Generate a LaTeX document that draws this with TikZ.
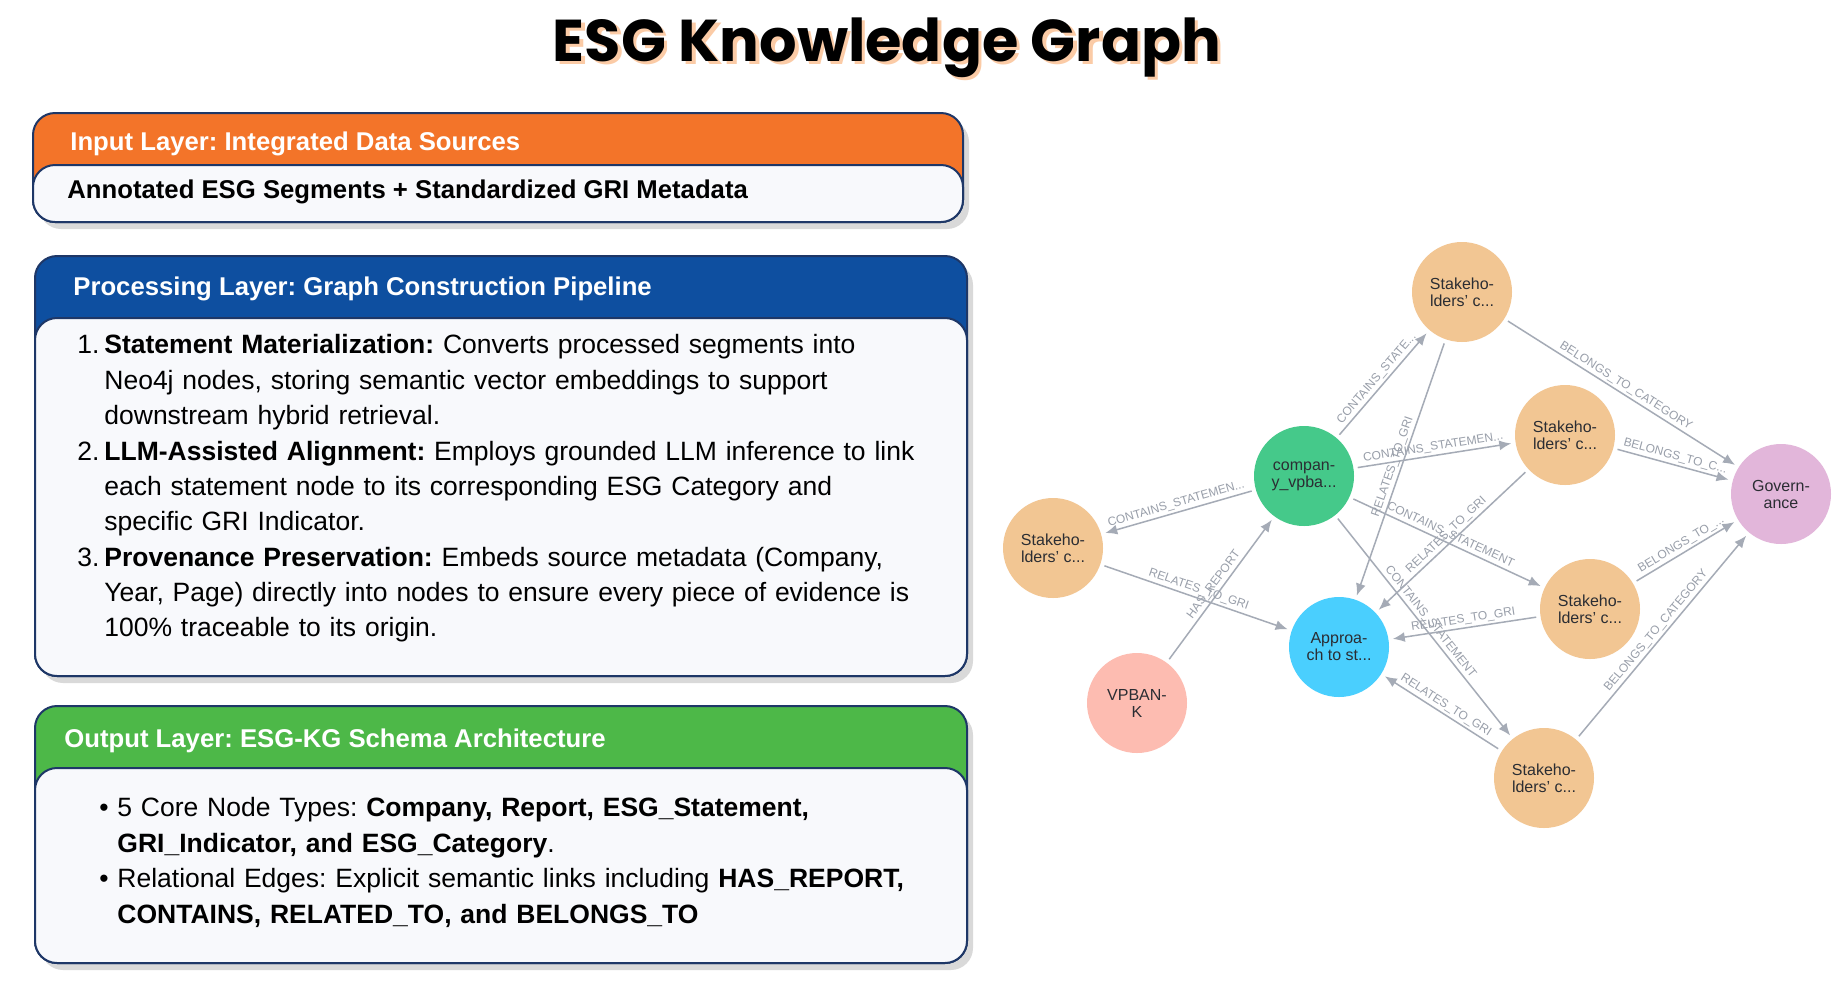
\documentclass[tikz,border=0pt]{standalone}
\usepackage{fontspec}
\setmainfont{Liberation Sans}
\setsansfont{Liberation Sans}
\newfontfamily\ttlfont{Poppins}
\usepackage{xcolor}
\usepackage{tikz}
\usetikzlibrary{arrows.meta, positioning, shadows, backgrounds}
\frenchspacing
\definecolor{inorange}{HTML}{F37429}
\definecolor{procblue}{HTML}{0E4FA0}
\definecolor{outgreen}{HTML}{4DB848}
\definecolor{panelnavy}{HTML}{1E3767}
\definecolor{bodywhite}{HTML}{F8F9FC}
\definecolor{peach}{HTML}{FBCBA6}
\definecolor{stmtorange}{HTML}{F2C693}
\definecolor{compgreen}{HTML}{45C98A}
\definecolor{catpink}{HTML}{E2B6DA}
\definecolor{gricyan}{HTML}{4ACFFE}
\definecolor{rptsalmon}{HTML}{FDBCB1}
\definecolor{edgegray}{HTML}{A5ABB6}
\definecolor{lblgray}{HTML}{989EA9}
\definecolor{inkgray}{HTML}{2B2D33}
\tikzset{
  ttl/.style={anchor=base, inner sep=0pt, font=\ttlfont\bfseries\fontsize{29.5}{34}\selectfont},
  panel/.style={draw=panelnavy, line width=1pt, rounded corners=11pt},
  panel/shade/.style={panel, drop shadow={shadow xshift=3pt, shadow yshift=-3.5pt, fill=black, opacity=0.15}},
  hdr/.style={anchor=base west, inner sep=0pt, text=white, font=\fontsize{12.85}{15}\selectfont\bfseries},
  itm/.style={anchor=north west, inner sep=0pt, text width=440pt, align=left, font=\fontsize{13.25}{17.55}\selectfont},
  num/.style={anchor=north east, inner sep=0pt, font=\fontsize{13.25}{17.55}\selectfont},
  gnode/.style={circle, minimum size=50pt, inner sep=0pt, align=center, text=inkgray, font=\fontsize{8}{8.5}\selectfont},
  gnode/stmt/.style={gnode, fill=stmtorange},
  gnode/comp/.style={gnode, fill=compgreen},
  gnode/cat/.style={gnode, fill=catpink},
  gnode/gri/.style={gnode, fill=gricyan},
  gnode/rpt/.style={gnode, fill=rptsalmon},
  rel/.style={-{Latex[length=6pt, width=5pt]}, draw=edgegray, line width=0.75pt, shorten >=2pt, shorten <=2pt},
  rl/.style={sloped, above, inner sep=1pt, text=lblgray, font=\fontsize{6}{7}\selectfont},
}

\begin{document}
\begin{tikzpicture}[x=0.5pt, y=0.5pt]
\useasboundingbox (0,0) rectangle (1842,-981);

\node[ttl, text=peach] (TTLs) at (890.5,-64) {ESG Knowledge Graph};
\node[ttl] (TTL) at (887,-61) {ESG Knowledge Graph};

\path[panel/shade, fill=inorange] (33,-113) rectangle (963,-222);
\path[panel, fill=bodywhite] (33,-165) rectangle (963,-222);
\node[hdr] (INh) at (70,-150) {Input Layer: Integrated Data Sources};
\node[hdr, text=black] (INb) at (67,-198) {Annotated ESG Segments + Standardized GRI Metadata};

\path[panel/shade, fill=procblue] (35,-256) rectangle (967,-676);
\path[panel, fill=bodywhite] (35,-318) rectangle (967,-676);
\node[hdr] (PRh) at (73,-295) {Processing Layer: Graph Construction Pipeline};
\node[itm] (P1) at (104,-329) {\strut\textbf{Statement Materialization:} Converts processed segments into\\Neo4j nodes, storing semantic vector embeddings to support\\downstream hybrid retrieval.\strut};
\node[itm, below=0pt of P1.south west, anchor=north west] (P2) {\strut\textbf{LLM-Assisted Alignment:} Employs grounded LLM inference to link\\each statement node to its corresponding ESG Category and\\specific GRI Indicator.\strut};
\node[itm, below=0pt of P2.south west, anchor=north west] (P3) {\strut\textbf{Provenance Preservation:} Embeds source metadata (Company,\\Year, Page) directly into nodes to ensure every piece of evidence is\\100\% traceable to its origin.\strut};
\node[num, left=2pt of P1.north west, anchor=north east] (P1n) {\strut 1.};
\node[num, left=2pt of P2.north west, anchor=north east] (P2n) {\strut 2.};
\node[num, left=2pt of P3.north west, anchor=north east] (P3n) {\strut 3.};

\path[panel/shade, fill=outgreen] (35,-706) rectangle (967,-963);
\path[panel, fill=bodywhite] (35,-768) rectangle (967,-963);
\node[hdr] (OUh) at (64,-747) {Output Layer: ESG-KG Schema Architecture};
\node[itm] (O1) at (117,-792) {\strut 5 Core Node Types: \textbf{Company, Report, ESG\_Statement,}\\\textbf{GRI\_Indicator, and ESG\_Category}.\strut};
\node[itm, below=0pt of O1.south west, anchor=north west] (O2) {\strut Relational Edges: Explicit semantic links including \textbf{HAS\_REPORT,}\\\textbf{CONTAINS, RELATED\_TO, and BELONGS\_TO}\strut};
\node[num, left=4pt of O1.north west, anchor=north east] (O1b) {\strut\textbullet};
\node[num, left=4pt of O2.north west, anchor=north east] (O2b) {\strut\textbullet};

\node[gnode/stmt] (S1) at (1462,-292) {Stakeho-\\lders' c...};
\node[gnode/comp] (CO) at (1304,-476) {compan-\\y\_vpba...};
\node[gnode/stmt] (S2) at (1565,-435) {Stakeho-\\lders' c...};
\node[gnode/cat]  (GV) at (1781,-494) {Govern-\\ance};
\node[gnode/stmt] (S3) at (1053,-548) {Stakeho-\\lders' c...};
\node[gnode/gri]  (AP) at (1339,-647) {Approa-\\ch to st...};
\node[gnode/stmt] (S4) at (1590,-609) {Stakeho-\\lders' c...};
\node[gnode/rpt]  (VP) at (1137,-703) {VPBAN-\\K};
\node[gnode/stmt] (S5) at (1544,-778) {Stakeho-\\lders' c...};

\draw[rel] (CO) -- node[rl]{CONTAINS\_STATE...} (S1);
\draw[rel] (CO) -- node[rl]{CONTAINS\_STATEMEN...} (S2);
\draw[rel] (CO) -- node[rl]{CONTAINS\_STATEMEN...} (S3);
\draw[rel] (CO) -- node[rl]{CONTAINS\_STATEMENT} (S4);
\draw[rel] (CO) -- node[rl]{CONTAINS\_STATEMENT} (S5);
\draw[rel] (VP) -- node[rl]{HAS\_REPORT} (CO);
\draw[rel] (S1) -- node[rl]{RELATES\_TO\_GRI} (AP);
\draw[rel] (S2) -- node[rl]{RELATES\_TO\_GRI} (AP);
\draw[rel] (S3) -- node[rl]{RELATES\_TO\_GRI} (AP);
\draw[rel] (S4) -- node[rl]{RELATES\_TO\_GRI} (AP);
\draw[rel] (S5) -- node[rl]{RELATES\_TO\_GRI} (AP);
\draw[rel] (S1) -- node[rl]{BELONGS\_TO\_CATEGORY} (GV);
\draw[rel] (S2) -- node[rl]{BELONGS\_TO\_C...} (GV);
\draw[rel] (S4) -- node[rl]{BELONGS\_TO\_...} (GV);
\draw[rel] (S5) -- node[rl]{BELONGS\_TO\_CATEGORY} (GV);

\begin{scope}[on background layer]
  \fill[white] (0,0) rectangle (1842,-981);
\end{scope}
\end{tikzpicture}
\end{document}
